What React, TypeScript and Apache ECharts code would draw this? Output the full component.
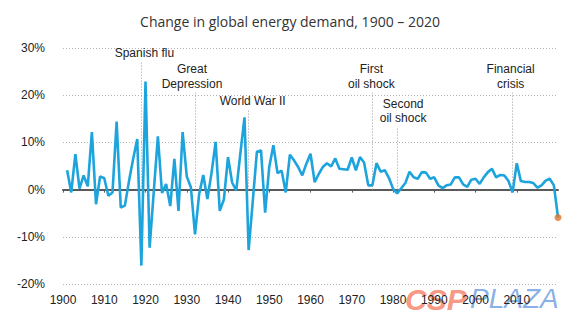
import React, { useEffect, useRef } from "react";
import * as echarts from "echarts";

const years: number[] = [];
for (let y = 1901; y <= 2020; y++) years.push(y);

const demandChange: number[] = [
  4.1, -0.6, 7.5, 0.2, 3.0, 0.7, 12.2, -3.1, 2.8, 2.4,
  -1.3, -0.6, 14.4, -3.8, -3.4, 1.8, 6.5, 10.7, -16.1, 22.9,
  -12.3, -0.5, 11.3, -0.7, 1.2, -3.5, 6.5, -4.5, 12.2, 2.8,
  0.5, -9.5, -1.0, 3.1, -2.0, 3.5, 10.1, -4.5, -2.1, 6.9,
  1.5, -0.2, 7.7, 15.3, -12.8, -2.5, 8.0, 8.3, -4.9, 4.8,
  9.4, 3.5, 4.0, -0.6, 7.4, 6.2, 4.8, 3.0, 5.5, 7.6,
  1.6, 3.3, 4.8, 5.6, 4.9, 6.6, 4.4, 4.3, 4.2, 6.8,
  4.1, 6.9, 5.7, 0.9, 0.9, 5.6, 3.8, 4.1, 2.5, 0.2,
  -0.8, 0.3, 1.4, 3.8, 2.6, 2.3, 3.7, 3.6, 2.3, 2.6,
  0.9, 0.3, 0.9, 1.1, 2.6, 2.6, 1.1, 0.6, 2.1, 2.3,
  1.2, 2.6, 3.7, 4.4, 2.6, 3.1, 3.0, 1.8, -0.6, 5.6,
  1.8, 1.6, 1.6, 1.4, 0.4, 0.9, 1.9, 2.3, 0.9, -5.9,
];

const eventYears: number[] = [1919, 1932, 1945, 1975, 1981, 2009];
const eventLabels: string[] = [
  "Spanish flu",
  "Great\nDepression",
  "World War II",
  "First\noil shock",
  "Second\noil shock",
  "Financial\ncrisis",
];
const eventTops: number[] = [26.9, 20.5, 16.9, 20.5, 13.2, 20.5];
const eventLabelShift: number[] = [3, -3, 4, -1, 6, -2];

const yTicks: number[] = [-20, -10, 0, 10, 20, 30];

const title = "Change in global energy demand, 1900 \u2013 2020";

export default function App() {
  const ref = useRef<HTMLDivElement>(null);
  useEffect(() => {
    if (!ref.current) return;
    const chart = echarts.init(ref.current, null, { renderer: "svg" });
    const seriesData = years.map((y, i) => [y, demandChange[i]]);
    const lastIdx = years.length - 1;
    const markLines = eventYears.map((yr, i) => [
      { coord: [yr, 0] },
      {
        coord: [yr, eventTops[i]],
        label: {
          show: true,
          position: "end",
          formatter: eventLabels[i],
          offset: [eventLabelShift[i], 0],
        },
      },
    ]);
    chart.setOption({
      animation: false,
      title: {
        text: title,
        left: "center",
        top: 9,
        textStyle: {
          fontFamily: "Open Sans",
          fontSize: 14,
          fontWeight: "normal",
          color: "#333",
        },
      },
      grid: {
        left: 63,
        right: 22,
        top: 48,
        bottom: 45,
        containLabel: false,
        outerBoundsMode: "none",
      },
      xAxis: {
        type: "value",
        min: 1900,
        max: 2020,
        interval: 10,
        axisLine: {
          show: true,
          onZero: true,
          lineStyle: { color: "#5a5a5a", width: 2 },
        },
        axisTick: { show: true, length: 3, lineStyle: { color: "#5a5a5a", width: 1 } },
        axisLabel: {
          margin: 10,
          showMaxLabel: false,
          color: "#222",
          fontFamily: "Liberation Sans",
          fontSize: 12,
          formatter: (v: number) => String(v),
        },
        splitLine: { show: false },
      },
      yAxis: {
        type: "value",
        min: yTicks[0],
        max: yTicks[yTicks.length - 1],
        interval: 10,
        axisLine: { show: false },
        axisTick: { show: false },
        axisLabel: {
          margin: 18,
          color: "#222",
          fontFamily: "Liberation Sans",
          fontSize: 12,
          formatter: (v: number) => `${v}%`,
        },
        splitLine: {
          show: true,
          lineStyle: { color: "#b5b5b5", type: [1, 2], width: 1 },
        },
      },
      series: [
        {
          type: "line",
          data: seriesData,
          symbol: "none",
          lineStyle: { color: "#1ea4dc", width: 2.6 },
          itemStyle: { color: "#1ea4dc" },
          z: 3,
          markLine: {
            silent: true,
            symbol: ["none", "none"],
            lineStyle: { color: "#9a9a9a", type: [1, 2], width: 1 },
            label: {
              color: "#222",
              fontFamily: "Liberation Sans",
              fontSize: 12,
              lineHeight: 14.5,
              distance: 2,
            },
            data: markLines,
            z: 1,
          },
        },
        {
          type: "scatter",
          data: [seriesData[lastIdx]],
          symbolSize: 7,
          itemStyle: { color: "#e0732c" },
          z: 4,
        },
      ],
      graphic: [
        {
          type: "text",
          left: 405,
          top: 284,
          z: -1,
          style: {
            text: "CSP",
            font: "italic bold 30px 'Liberation Sans'",
            fill: "rgba(245,125,100,0.8)",
          },
        },
        {
          type: "text",
          left: 470,
          top: 284,
          z: -1,
          style: {
            text: "PLAZA",
            font: "italic 28px 'Liberation Sans'",
            fill: "rgba(100,150,225,0.75)",
          },
        },
      ],
    });
    return () => chart.dispose();
  }, []);
  return (
    <div
      ref={ref}
      style={{ position: "absolute", left: 0, top: 0, width: 580, height: 329, background: "#fff" }}
    />
  );
}
